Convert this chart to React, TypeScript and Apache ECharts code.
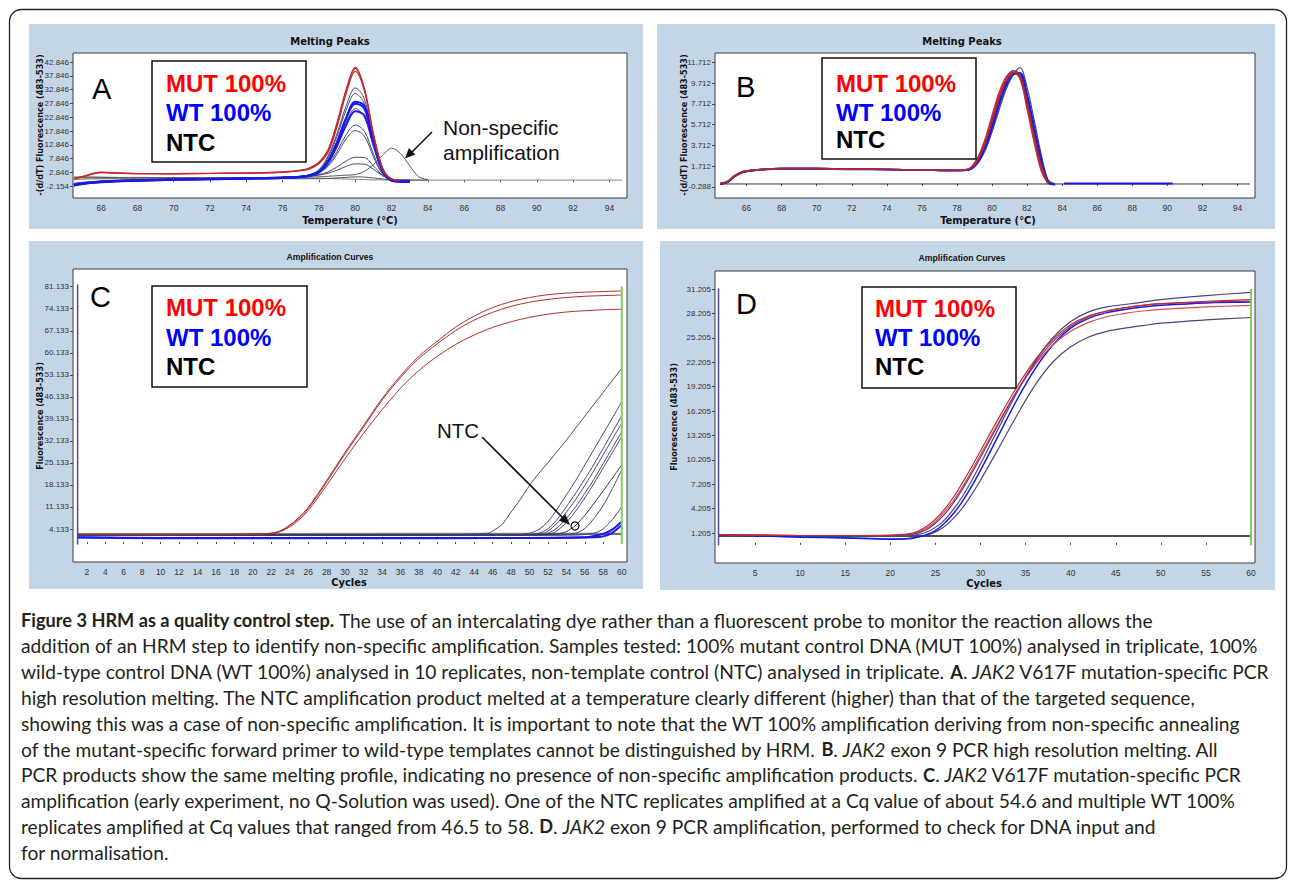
import React, { useEffect, useRef } from "react";
import * as echarts from "echarts";

// ---------------- Panel A: Melting peaks (JAK2 V617F) ----------------
const A_TEMP = [64.5, 65, 66, 67, 68, 70, 72, 74, 76, 77, 77.5, 78, 78.5, 79, 79.5, 80, 80.5, 81, 81.5, 82, 82.5, 83, 83.5, 84, 94.7];
const A_MUT_1 = [0.6, 1.4, 2.9, 2.6, 2.4, 2.4, 2.5, 2.6, 3.0, 3.6, 4.5, 6.5, 11, 21, 33, 41, 33.5, 17, 4.5, 0.5, 0, null, null, null, null];
const A_MUT_2 = [0.4, 1.2, 2.8, 2.5, 2.3, 2.3, 2.4, 2.5, 2.9, 3.5, 4.3, 6.2, 10.5, 20.5, 32.5, 40.5, 33, 16.5, 4.2, 0.4, 0, null, null, null, null];
const A_MUT_3 = [0.5, 1.3, 2.7, 2.5, 2.4, 2.3, 2.4, 2.5, 2.8, 3.4, 4.1, 5.9, 10, 19.5, 31.5, 39.5, 32.5, 16, 4, 0.3, 0, null, null, null, null];
const A_WT_1 = [-1.6, -1.0, -0.5, -0.2, 0.0, 0.3, 0.5, 0.7, 1.0, 1.4, 2.0, 3.8, 8.8, 17, 27, 33.5, 29.5, 15, 3.5, -0.3, -0.5, -0.4, null, null, null];
const A_WT_2 = [-1.7, -1.1, -0.5, -0.2, 0.0, 0.3, 0.5, 0.7, 1.0, 1.3, 1.9, 3.5, 8.2, 16, 25.5, 31.5, 27.8, 14, 3.2, -0.3, -0.5, -0.4, null, null, null];
const A_WT_3 = [-1.9, -1.3, -0.7, -0.4, -0.2, 0.1, 0.3, 0.5, 0.8, 1.1, 1.6, 2.9, 6.8, 13.5, 22.5, 28.5, 27, 15.5, 4, 0, -0.5, -0.6, null, null, null];
const A_WT_4 = [-1.8, -1.2, -0.6, -0.3, -0.1, 0.2, 0.4, 0.6, 0.9, 1.2, 1.7, 3.0, 7.0, 14, 22.5, 27.8, 26, 14.5, 3.5, -0.2, -0.6, -0.6, null, null, null];
const A_WT_5 = [-1.5, -1.0, -0.4, -0.1, 0.1, 0.4, 0.6, 0.8, 1.1, 1.4, 2.0, 3.3, 7.0, 13.5, 21, 26, 23, 12, 3, -0.2, -0.4, -0.3, null, null, null];
const A_WT_6 = [-2.0, -1.4, -0.8, -0.4, -0.2, 0.1, 0.3, 0.5, 0.8, 1.1, 1.6, 2.8, 6.3, 12.5, 20, 25, 23.5, 13.5, 3.5, 0, -0.5, -0.6, null, null, null];
const A_WT_7 = [-1.4, -0.9, -0.4, -0.1, 0.1, 0.4, 0.6, 0.8, 1.1, 1.4, 1.9, 2.9, 5.5, 10.5, 16.5, 20, 17.8, 9.5, 2.5, 0, -0.3, -0.2, null, null, null];
const A_WT_8 = [-1.5, -1.0, -0.5, -0.2, 0.0, 0.3, 0.5, 0.7, 1.0, 1.3, 1.8, 2.7, 5.0, 9.5, 15, 18, 16, 8.5, 2.2, 0, -0.3, -0.2, null, null, null];
const A_WT_9 = [-1.3, -0.9, -0.4, -0.1, 0.1, 0.4, 0.6, 0.8, 1.0, 1.2, 1.5, 2.0, 3.0, 4.8, 7.0, 8.3, 8.2, 5.2, 1.8, 0.2, -0.1, 0, null, null, null];
const A_WT_10 = [-1.2, -0.8, -0.3, 0.0, 0.2, 0.5, 0.7, 0.9, 1.0, 1.2, 1.4, 1.8, 2.5, 3.6, 5.0, 5.9, 5.8, 4.0, 1.6, 0.3, 0, 0, null, null, null];
const A_NTC_1 = [0.8, 1.0, 1.0, 0.9, 0.9, 0.9, 0.9, 0.9, 1.0, 1.0, 1.1, 1.2, 1.4, 1.6, 1.8, 2.0, 3.2, 5.6, 9.0, 11.6, 9.6, 5.2, 1.2, 0.2, null];
const A_NTC_2 = [1.2, 1.2, 1.1, 1.0, 1.0, 0.9, 0.9, 0.8, 0.8, 0.8, 0.7, 0.7, 0.6, 0.5, 0.4, 0.3, 0.2, 0.1, 0.1, 0.0, 0.0, 0.0, 0.0, 0.0, 0.0];
const A_NTC_3 = [0.3, 0.4, 0.5, 0.5, 0.5, 0.5, 0.5, 0.5, 0.5, 0.5, 0.5, 0.5, 0.6, 0.8, 1.0, 1.2, 1.1, 0.8, 0.4, 0.2, 0.1, 0.0, 0.0, 0.0, null];

// ---------------- Panel B: Melting peaks (JAK2 exon 9) ----------------
const B_TEMP = [64.5, 64.9, 65.3, 65.8, 66.5, 68, 70, 72, 74, 76, 78, 78.7, 79.2, 79.6, 80, 80.4, 80.8, 81.2, 81.6, 82, 82.4, 82.8, 83.2, 83.6];
const B_MUT_1 = [0.05, 0.2, 0.8, 1.2, 1.35, 1.5, 1.5, 1.45, 1.4, 1.35, 1.35, 1.5, 2.6, 4.3, 6.6, 8.8, 10.3, 10.8, 10.1, 7.2, 4.0, 1.3, 0.0, null];
const B_MUT_2 = [0.05, 0.2, 0.7, 1.15, 1.3, 1.45, 1.45, 1.4, 1.4, 1.35, 1.3, 1.45, 2.4, 4.0, 6.2, 8.4, 10.0, 10.7, 10.3, 7.6, 4.4, 1.6, 0.05, null];
const B_MUT_3 = [0.05, 0.25, 0.8, 1.2, 1.35, 1.5, 1.5, 1.45, 1.4, 1.35, 1.3, 1.4, 2.3, 3.8, 5.9, 8.1, 9.8, 10.6, 10.4, 7.9, 4.8, 1.9, 0.1, null];
const B_WT_1 = [0.0, 0.15, 0.7, 1.15, 1.35, 1.5, 1.5, 1.45, 1.4, 1.35, 1.3, 1.4, 2.2, 3.6, 5.6, 7.8, 9.6, 10.6, 10.6, 8.4, 5.3, 2.3, 0.2, -0.05];
const B_WT_2 = [0.0, 0.15, 0.7, 1.1, 1.3, 1.45, 1.45, 1.4, 1.4, 1.35, 1.3, 1.35, 2.1, 3.4, 5.3, 7.5, 9.4, 10.5, 10.7, 8.7, 5.6, 2.5, 0.25, -0.05];
const B_WT_3 = [0.05, 0.2, 0.75, 1.2, 1.35, 1.5, 1.5, 1.45, 1.4, 1.35, 1.3, 1.45, 2.5, 4.1, 6.3, 8.5, 10.1, 10.9, 10.5, 7.8, 4.5, 1.6, 0.05, null];
const B_WT_4 = [0.0, 0.15, 0.7, 1.15, 1.3, 1.45, 1.45, 1.4, 1.4, 1.35, 1.3, 1.35, 2.0, 3.2, 5.0, 7.1, 9.1, 10.5, 11.2, 9.3, 6.2, 2.9, 0.4, 0.0];
const B_WT_5 = [0.0, 0.15, 0.7, 1.15, 1.35, 1.5, 1.5, 1.45, 1.4, 1.35, 1.3, 1.4, 2.3, 3.7, 5.8, 8.0, 9.8, 10.7, 10.5, 8.1, 5.0, 2.0, 0.1, -0.05];
const B_WT_TAIL = [[84.1, 0.05], [90.3, 0.05]];
const B_NTC = [[64.5, 0.0], [94.7, 0.0]];

// ---------------- Panel C: Amplification (JAK2 V617F) ----------------
const C_CYCLE = [1, 5, 10, 15, 20, 22, 23, 24, 25, 26, 28, 30, 32, 34, 36, 38, 40, 42, 44, 46, 48, 50, 52, 54, 56, 58, 60];
const C_MUT_1 = [2.4, 2.4, 2.4, 2.4, 2.5, 2.8, 3.6, 5.4, 7.8, 11.0, 19.5, 28.5, 37, 45.5, 52.8, 59, 63.8, 68.3, 71.8, 74.5, 76.4, 77.7, 78.6, 79.1, 79.4, 79.6, 79.8];
const C_MUT_2 = [2.4, 2.4, 2.4, 2.4, 2.5, 2.8, 3.5, 5.2, 7.5, 10.6, 19, 28, 36.5, 45, 52.2, 58.3, 63, 67.2, 70.5, 73, 74.9, 76.2, 77.1, 77.7, 78.1, 78.3, 78.5];
const C_MUT_3 = [2.4, 2.4, 2.4, 2.4, 2.5, 2.7, 3.3, 4.8, 7.0, 10.0, 18, 26.5, 34.5, 42, 48.8, 54.5, 59, 62.8, 65.8, 68.2, 70, 71.4, 72.4, 73.1, 73.5, 73.8, 74.0];
const C_WT_1 = [[1, 2.3], [20, 2.2], [40, 2.2], [45.5, 2.8], [46, 3.5], [47, 5.5], [48, 9.5], [49, 13.5], [50, 18], [51, 21.8], [52, 25.2], [53, 28.8], [54, 32.4], [55, 36.2], [56, 40], [57, 43.8], [58, 47.6], [59, 51.4], [60, 55.2]];
const C_WT_2 = [[1, 2.2], [30, 2.1], [48, 2.2], [50, 2.8], [51, 4], [52, 6.5], [53, 10.5], [54, 15], [55, 19.5], [56, 24.5], [57, 29.5], [58, 34.5], [59, 39.5], [60, 44.6]];
const C_WT_3 = [[1, 2.2], [30, 2.1], [49, 2.2], [51, 2.8], [52, 4.2], [53, 7.2], [54, 11.2], [55, 15.5], [56, 20], [57, 24.8], [58, 29.8], [59, 35], [60, 40.1]];
const C_WT_4 = [[1, 2.2], [30, 2.1], [50, 2.2], [51.5, 2.8], [52, 3.5], [53, 6], [54, 9.5], [55, 13.5], [56, 18], [57, 22.8], [58, 27.8], [59, 32.8], [60, 37.7]];
const C_WT_5 = [[1, 2.2], [30, 2.1], [50.5, 2.2], [52, 2.8], [53, 4.5], [54, 7.5], [55, 11.2], [56, 15.5], [57, 20], [58, 25], [59, 30], [60, 35]];
const C_WT_6 = [[1, 2.2], [30, 2.1], [51, 2.2], [52.5, 2.8], [53, 3.6], [54, 6.2], [55, 9.8], [56, 14], [57, 18.7], [58, 23.6], [59, 28.5], [60, 33.5]];
const C_WT_7 = [[1, 2.2], [30, 2.1], [53, 2.2], [55, 2.8], [56, 4.3], [57, 7.5], [58, 11.7], [59, 17], [60, 22.9]];
const C_WT_8 = [[1, 2.2], [30, 2.1], [55, 2.2], [57, 2.8], [58, 4.2], [59, 7.2], [60, 11.2]];
const C_WT_9 = [[1, 1.5], [10, 1.3], [30, 1.3], [50, 1.3], [56, 1.5], [57, 1.9], [58, 2.6], [59, 4.0], [60, 6.5]];
const C_WT_10 = [[1, 1.4], [10, 1.2], [30, 1.2], [52, 1.3], [57, 1.5], [58, 1.8], [59, 3.0], [60, 5.4]];
const C_NTC_1 = [[1, 2.3], [30, 2.2], [51, 2.3], [53, 2.6], [54, 3.3], [55, 5.3], [56, 8.5], [57, 12.3], [58, 16.3], [59, 20.4], [60, 24.5]];
const C_NTC_2 = [[1, 2.7], [60, 2.8]];
const C_NTC_3 = [[1, 2.4], [60, 2.5]];
const C_START_MARK = [[1, 81.8], [1, -0.8]];
const C_END_MARK = [[60, 81.2], [60, -0.6]];

// ---------------- Panel D: Amplification (JAK2 exon 9) ----------------
const D_CYCLE = [1, 5, 10, 15, 20, 22, 23, 24, 25, 26, 27, 28, 29, 30, 32, 34, 36, 38, 40, 42, 44, 46, 48, 50, 55, 60];
const D_WT_1 = [1.0, 0.9, 0.85, 0.8, 0.8, 0.85, 1.0, 1.3, 1.9, 2.8, 4.1, 5.7, 7.6, 9.7, 14.1, 18.4, 22.2, 25.2, 27.2, 28.4, 29.0, 29.3, 29.6, 29.9, 30.4, 30.8];
const D_MUT_1 = [1.0, 0.95, 0.9, 0.9, 0.95, 1.1, 1.4, 2.0, 2.9, 4.1, 5.6, 7.4, 9.3, 11.3, 15.3, 19.1, 22.4, 25.0, 26.8, 27.9, 28.5, 28.9, 29.2, 29.4, 29.7, 29.9];
const D_MUT_2 = [1.0, 0.95, 0.9, 0.9, 0.9, 1.0, 1.2, 1.6, 2.4, 3.5, 4.9, 6.6, 8.5, 10.5, 14.6, 18.6, 22.0, 24.7, 26.6, 27.8, 28.5, 28.9, 29.2, 29.4, 29.6, 29.7];
const D_MUT_3 = [1.0, 0.95, 0.9, 0.9, 0.9, 1.0, 1.3, 1.8, 2.6, 3.8, 5.2, 6.9, 8.8, 10.8, 14.8, 18.6, 21.8, 24.3, 26.0, 27.1, 27.8, 28.2, 28.5, 28.7, 29.0, 29.2];
const D_WT_2 = [1.0, 0.85, 0.7, 0.6, 0.45, 0.5, 0.7, 1.0, 1.5, 2.4, 3.6, 5.1, 6.9, 8.9, 13.2, 17.5, 21.3, 24.3, 26.4, 27.6, 28.3, 28.7, 29.0, 29.2, 29.5, 29.6];
const D_WT_3 = [1.0, 0.85, 0.75, 0.65, 0.5, 0.55, 0.7, 0.95, 1.35, 2.0, 3.0, 4.3, 5.9, 7.7, 11.6, 15.6, 19.3, 22.2, 24.1, 25.3, 26.0, 26.4, 26.7, 27.0, 27.4, 27.7];
const D_NTC = [[1, 0.85], [60, 0.85]];
const D_START_MARK = [[0.95, 31.3], [0.95, -0.3]];
const D_END_MARK = [[60, 31.2], [60, -0.3]];

// ---------------- Tick labels ----------------
const MELT_X_TICKS = [66, 68, 70, 72, 74, 76, 78, 80, 82, 84, 86, 88, 90, 92, 94];
const A_Y_TICKS = [-2.154, 2.846, 7.846, 12.846, 17.846, 22.846, 27.846, 32.846, 37.846, 42.846];
const B_Y_TICKS = [-0.288, 1.712, 3.712, 5.712, 7.712, 9.712, 11.712];
const C_X_TICKS = [2, 4, 6, 8, 10, 12, 14, 16, 18, 20, 22, 24, 26, 28, 30, 32, 34, 36, 38, 40, 42, 44, 46, 48, 50, 52, 54, 56, 58, 60];
const C_Y_TICKS = [4.133, 11.133, 18.133, 25.133, 32.133, 39.133, 46.133, 53.133, 60.133, 67.133, 74.133, 81.133];
const D_X_TICKS = [5, 10, 15, 20, 25, 30, 35, 40, 45, 50, 55, 60];
const D_Y_TICKS = [1.205, 4.205, 7.205, 10.205, 13.205, 16.205, 19.205, 22.205, 25.205, 28.205, 31.205];

// ---------------- Caption ----------------
const CAPTION_LINES = [
  "{b|Figure 3 HRM as a quality control step.} The use of an intercalating dye rather than a fluorescent probe to monitor the reaction allows the",
  "addition of an HRM step to identify non-specific amplification. Samples tested: 100% mutant control DNA (MUT 100%) analysed in triplicate, 100%",
  "wild-type control DNA (WT 100%) analysed in 10 replicates, non-template control (NTC) analysed in triplicate. {b|A}. {i|JAK2} V617F mutation-specific PCR",
  "high resolution melting. The NTC amplification product melted at a temperature clearly different (higher) than that of the targeted sequence,",
  "showing this was a case of non-specific amplification. It is important to note that the WT 100% amplification deriving from non-specific annealing",
  "of the mutant-specific forward primer to wild-type templates cannot be distinguished by HRM. {b|B}. {i|JAK2} exon 9 PCR high resolution melting. All",
  "PCR products show the same melting profile, indicating no presence of non-specific amplification products. {b|C}. {i|JAK2} V617F mutation-specific PCR",
  "amplification (early experiment, no Q-Solution was used). One of the NTC replicates amplified at a Cq value of about 54.6 and multiple WT 100%",
  "replicates amplified at Cq values that ranged from 46.5 to 58. {b|D}. {i|JAK2} exon 9 PCR amplification, performed to check for DNA input and",
  "for normalisation.",
];

const NARROW = '"Liberation Sans Narrow", "DejaVu Sans Condensed", "Arial Narrow", sans-serif';
const ARIAL = '"Liberation Sans", Arial, sans-serif';
const CAP_FONT = 'Lato, "Open Sans", sans-serif';

const RED = "#c42a2e";
const DRED = "#9a2a35";
const NAVY = "#47477a";
const BLUE = "#1818e8";
const PURPLE = "#7c3080";
const GRAY = "#808080";
const GREEN = "#7fcf5f";

function zip(xs: number[], ys: (number | null)[]) {
  const out: number[][] = [];
  xs.forEach((x, i) => {
    const y = ys[i];
    if (y !== null && y !== undefined) out.push([x, y]);
  });
  return out;
}

function ln(g: number, data: number[][], color: string, width = 1, smooth: number | boolean = 0.35) {
  return {
    type: "line",
    xAxisIndex: g,
    yAxisIndex: g,
    data,
    symbol: "none",
    showSymbol: false,
    smooth,
    lineStyle: { color, width },
    itemStyle: { color },
    silent: true,
    clip: true,
  };
}

function xAxis(g: number, min: number, max: number, ticks: number[]) {
  return {
    type: "value",
    gridIndex: g,
    min,
    max,
    axisLine: { show: false },
    axisTick: { show: true, length: 2, customValues: ticks, lineStyle: { color: "#444" } },
    axisLabel: { customValues: ticks, fontSize: 8.5, fontFamily: ARIAL, color: "#333", margin: 5, formatter: (v: number) => String(v) },
    splitLine: { show: false },
  };
}

function yAxis(g: number, min: number, max: number, ticks: number[]) {
  return {
    type: "value",
    gridIndex: g,
    min,
    max,
    axisLine: { show: false },
    axisTick: { show: true, length: 3, customValues: ticks, lineStyle: { color: "#444" } },
    axisLabel: { customValues: ticks, fontSize: 8, fontFamily: ARIAL, color: "#333", margin: 4, formatter: (v: number) => v.toFixed(3) },
    splitLine: { show: false },
  };
}

function txt(x: number, y: number, text: string, font: any, extra: any = {}) {
  return { type: "text", x, y, z: 60, silent: true, style: { text, verticalAlign: "middle", align: "left", fill: "#111", ...font }, ...extra };
}

function legendBox(x: number, y: number, w: number, h: number, tx: number, ys: number[]) {
  const f = { fontSize: 24, fontWeight: "bold", fontFamily: ARIAL };
  return [
    { type: "rect", z: 55, silent: true, shape: { x, y, width: w, height: h }, style: { fill: "#fff", stroke: "#111", lineWidth: 1.5 } },
    txt(tx, ys[0], "MUT 100%", { ...f, fill: "#ff0000" }),
    txt(tx, ys[1], "WT 100%", { ...f, fill: "#0000ff" }),
    txt(tx, ys[2], "NTC", { ...f, fill: "#000" }),
  ];
}

function buildOption() {
  const grids = [
    { left: 73, top: 53, width: 554, height: 145 },
    { left: 715, top: 53, width: 540, height: 145 },
    { left: 73, top: 269, width: 554, height: 293 },
    { left: 715, top: 271, width: 540, height: 292 },
  ].map((g) => ({ ...g, show: true, backgroundColor: "#ffffff", borderColor: "#3a3a3a", borderWidth: 1, containLabel: false }));

  const series: any[] = [];
  // A
  series.push(ln(0, zip(A_TEMP, A_NTC_2), GRAY));
  series.push(ln(0, zip(A_TEMP, A_NTC_3), "#555"));
  series.push(ln(0, zip(A_TEMP, A_NTC_1), "#5a5a5a"));
  [A_WT_1, A_WT_2, A_WT_5, A_WT_7, A_WT_8, A_WT_9, A_WT_10].forEach((w) => series.push(ln(0, zip(A_TEMP, w), NAVY)));
  [A_WT_3, A_WT_4, A_WT_6].forEach((w) => series.push(ln(0, zip(A_TEMP, w), BLUE, 2)));
  [A_MUT_1, A_MUT_2, A_MUT_3].forEach((m) => series.push(ln(0, zip(A_TEMP, m), RED, 1.2)));
  // B
  series.push(ln(1, B_NTC, "#333", 1, false));
  series.push(ln(1, B_WT_TAIL, BLUE, 2, false));
  series.push(ln(1, zip(B_TEMP, B_WT_4), NAVY, 1.2));
  [B_WT_1, B_WT_2, B_WT_5].forEach((w) => series.push(ln(1, zip(B_TEMP, w), BLUE, 1.5)));
  series.push(ln(1, zip(B_TEMP, B_WT_3), PURPLE, 1.5));
  [B_MUT_1, B_MUT_2].forEach((m) => series.push(ln(1, zip(B_TEMP, m), RED, 1.3)));
  series.push(ln(1, zip(B_TEMP, B_MUT_3), DRED, 1.3));
  // C
  series.push(ln(2, C_NTC_2, GRAY, 1, false));
  series.push(ln(2, C_NTC_3, "#222", 1, false));
  [C_WT_1, C_WT_2, C_WT_3, C_WT_4, C_WT_5, C_WT_6, C_WT_7, C_WT_8].forEach((w) => series.push(ln(2, w, NAVY, 1, 0.25)));
  series.push(ln(2, C_NTC_1, "#33334f", 1, 0.25));
  [C_WT_9, C_WT_10].forEach((w) => series.push(ln(2, w, BLUE, 2, 0.25)));
  [C_MUT_1, C_MUT_2, C_MUT_3].forEach((m) => series.push(ln(2, zip(C_CYCLE, m), "#a8322f", 1)));
  series.push(ln(2, C_START_MARK, "#4a4a99", 1.5, false));
  series.push(ln(2, C_END_MARK, GREEN, 2, false));
  // D
  series.push(ln(3, D_NTC, "#111", 1.5, false));
  series.push(ln(3, zip(D_CYCLE, D_WT_3), NAVY, 1.2));
  series.push(ln(3, zip(D_CYCLE, D_WT_1), NAVY, 1.2));
  series.push(ln(3, zip(D_CYCLE, D_WT_2), BLUE, 1.5));
  series.push(ln(3, zip(D_CYCLE, D_MUT_3), "#d05050", 1.2));
  series.push(ln(3, zip(D_CYCLE, D_MUT_2), PURPLE, 1.2));
  series.push(ln(3, zip(D_CYCLE, D_MUT_1), RED, 1.2));
  series.push(ln(3, D_START_MARK, "#4a4a99", 1.5, false));
  series.push(ln(3, D_END_MARK, GREEN, 2, false));

  const titleMelt = { fontSize: 10, fontWeight: "bold", fontFamily: '"DejaVu Sans", sans-serif', fill: "#111", align: "center" };
  const titleAmp = { fontSize: 8.7, fontWeight: "bold", fontFamily: ARIAL, fill: "#111", align: "center" };
  const axName = { fontSize: 11, fontWeight: "bold", fontFamily: NARROW, fill: "#111", align: "center" };
  const yName = { fontSize: 9, fontWeight: "bold", fontFamily: NARROW, fill: "#111", align: "center" };
  const letter = { fontSize: 29, fontFamily: ARIAL, fill: "#000" };
  const annot = { fontSize: 21, fontFamily: ARIAL, fill: "#111" };
  const CAP_SIZE = 19.2;
  const capBase = { fontSize: CAP_SIZE, fontFamily: CAP_FONT, fill: "#231f20" };

  const graphic: any[] = [
    { type: "rect", z: -20, silent: true, shape: { x: 9.5, y: 9.5, width: 1277, height: 869, r: 12 }, style: { fill: "#fff", stroke: "#222", lineWidth: 1.3 } },
    { type: "rect", z: -10, silent: true, shape: { x: 29, y: 24, width: 614, height: 205 }, style: { fill: "#c4d6e6" } },
    { type: "rect", z: -10, silent: true, shape: { x: 657, y: 24, width: 618, height: 205 }, style: { fill: "#c4d6e6" } },
    { type: "rect", z: -10, silent: true, shape: { x: 29, y: 241, width: 614, height: 348 }, style: { fill: "#c4d6e6" } },
    { type: "rect", z: -10, silent: true, shape: { x: 660, y: 241, width: 615, height: 349 }, style: { fill: "#c4d6e6" } },
    txt(330, 41, "Melting Peaks", titleMelt),
    txt(962, 41, "Melting Peaks", titleMelt),
    txt(330, 257, "Amplification Curves", titleAmp),
    txt(962, 258, "Amplification Curves", titleAmp),
    txt(350, 220, "Temperature (°C)", axName),
    txt(988, 220, "Temperature (°C)", axName),
    txt(349, 582, "Cycles", axName),
    txt(984, 583, "Cycles", axName),
    txt(40, 125, "-(d/dT) Fluorescence (483-533)", yName, { rotation: Math.PI / 2 }),
    txt(684, 125, "-(d/dT) Fluorescence (483-533)", yName, { rotation: Math.PI / 2 }),
    txt(40, 416, "Fluorescence (483-533)", yName, { rotation: Math.PI / 2 }),
    txt(674, 417, "Fluorescence (483-533)", yName, { rotation: Math.PI / 2 }),
    txt(92, 89, "A", letter),
    txt(736, 87, "B", letter),
    txt(90, 297, "C", letter),
    txt(736, 304, "D", letter),
    ...legendBox(152, 61, 154, 101, 166, [83, 112, 142]),
    ...legendBox(822, 58, 154, 101, 836, [83, 112, 139]),
    ...legendBox(152, 286, 155, 101, 166, [307, 337, 366]),
    ...legendBox(862, 287, 154, 101, 875, [308, 337, 366]),
    txt(443, 127, "Non-specific", annot),
    txt(443, 152, "amplification", annot),
    { type: "line", z: 60, silent: true, shape: { x1: 432, y1: 132, x2: 410, y2: 154 }, style: { stroke: "#111", lineWidth: 1.6 } },
    { type: "polygon", z: 60, silent: true, shape: { points: [[405, 158.5], [415.3, 154.4], [408.9, 148.0]] }, style: { fill: "#111" } },
    txt(437, 430, "NTC", { ...annot, fontSize: 20.5 }),
    { type: "line", z: 60, silent: true, shape: { x1: 482, y1: 437, x2: 564, y2: 519 }, style: { stroke: "#111", lineWidth: 1.6 } },
    { type: "polygon", z: 60, silent: true, shape: { points: [[570, 525], [559, 520.4], [565.4, 514]] }, style: { fill: "#111" } },
    { type: "circle", z: 60, silent: true, shape: { cx: 575, cy: 526, r: 4 }, style: { fill: "none", stroke: "#111", lineWidth: 1.2 } },
  ];

  CAPTION_LINES.forEach((line, i) => {
    graphic.push({
      type: "text",
      x: 21,
      y: 620 + i * 25.8,
      z: 60,
      silent: true,
      style: {
        text: line,
        verticalAlign: "middle",
        ...capBase,
        rich: {
          b: { fontSize: 18.2, fontFamily: CAP_FONT, fontWeight: "bold", fill: "#231f20" },
          i: { fontSize: CAP_SIZE, fontFamily: CAP_FONT, fontStyle: "italic", fill: "#231f20" },
        },
      },
    });
  });

  return {
    animation: false,
    backgroundColor: "#ffffff",
    grid: grids,
    xAxis: [
      xAxis(0, 64.45, 94.97, MELT_X_TICKS),
      xAxis(1, 64.2, 95.0, MELT_X_TICKS),
      xAxis(2, 0.5, 60.57, C_X_TICKS),
      xAxis(3, 0.56, 60.44, D_X_TICKS),
    ],
    yAxis: [
      yAxis(0, -6.5, 46.2, A_Y_TICKS),
      yAxis(1, -1.35, 12.61, B_Y_TICKS),
      yAxis(2, -6.35, 86.76, C_Y_TICKS),
      yAxis(3, -2.48, 33.42, D_Y_TICKS),
    ],
    series,
    graphic,
  };
}

export default function App() {
  const ref = useRef<HTMLDivElement>(null);
  useEffect(() => {
    const chart = echarts.init(ref.current!, null, { renderer: "svg" });
    chart.setOption(buildOption() as any);
    return () => chart.dispose();
  }, []);
  return <div ref={ref} style={{ position: "absolute", left: 0, top: 0, width: 1290, height: 880, background: "#fff" }} />;
}
